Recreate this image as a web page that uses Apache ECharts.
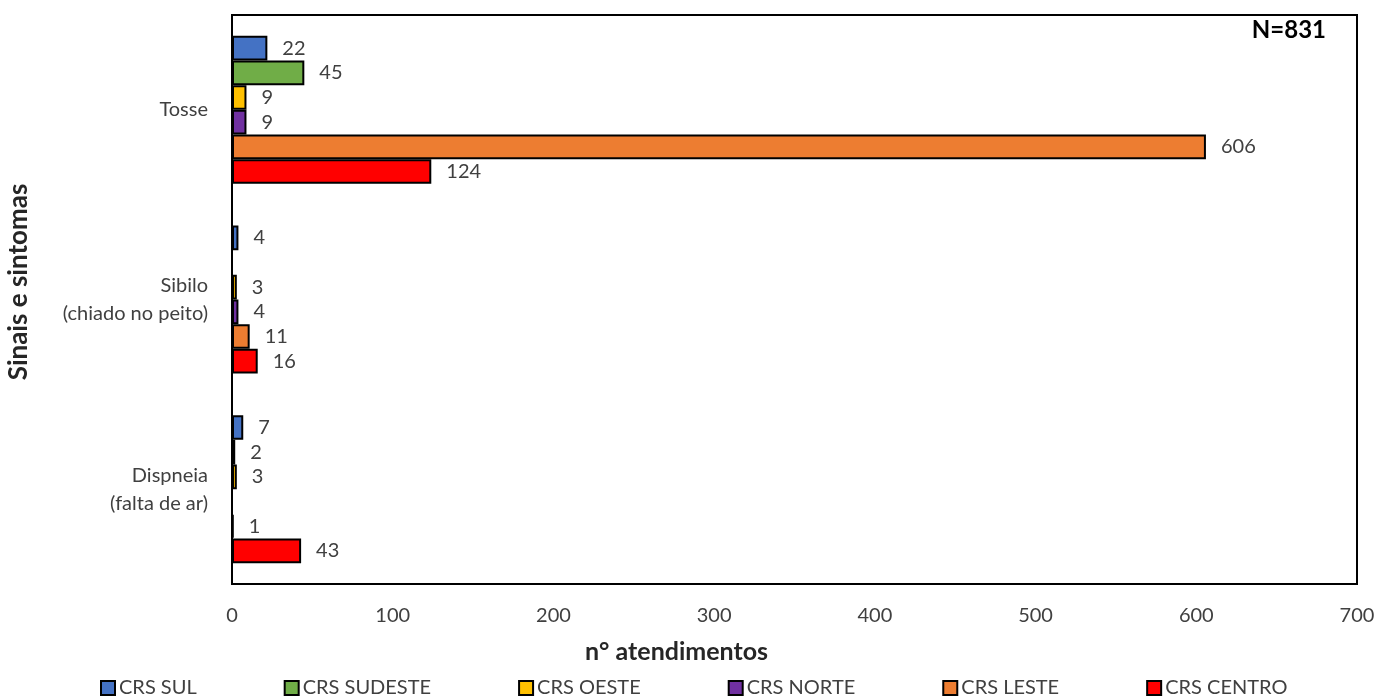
<!DOCTYPE html>
<html>
<head>
<meta charset="utf-8">
<script src="https://cdn.jsdelivr.net/npm/echarts@6/dist/echarts.min.js"></script>
<style>
  html, body { margin: 0; padding: 0; background: #fff; }
  #chart { width: 1394px; height: 696px; }
</style>
</head>
<body>
<div id="chart"></div>
<script>
// Sintomas respiratórios por Coordenadoria Regional de Saúde
const categories = ['Tosse', 'Sibilo\n(chiado no peito)', 'Dispneia\n(falta de ar)'];
const regions = ['CRS SUL', 'CRS SUDESTE', 'CRS OESTE', 'CRS NORTE', 'CRS LESTE', 'CRS CENTRO'];
const crsSul = [22, 4, 7];
const crsSudeste = [45, null, 2];
const crsOeste = [9, 3, 3];
const crsNorte = [9, 4, null];
const crsLeste = [606, 11, 1];
const crsCentro = [124, 16, 43];
const xTicks = [0, 100, 200, 300, 400, 500, 600, 700];
const totalLabel = 'N=831';

const colors = ['#4472C4', '#70AD47', '#FFC000', '#7030A0', '#ED7D31', '#FF0000'];
const seriesValues = [crsSul, crsSudeste, crsOeste, crsNorte, crsLeste, crsCentro];
const FONT = 'Lato, "Open Sans", sans-serif';
const TEXT = '#404040';

const chart = echarts.init(document.getElementById('chart'), null, { renderer: 'canvas' });

const series = regions.map((name, i) => ({
  name: name,
  type: 'bar',
  data: seriesValues[i],
  barGap: '0%',
  barCategoryGap: '22%',
  itemStyle: { color: colors[i], borderColor: '#000', borderWidth: 2 },
  label: {
    show: true,
    position: 'right',
    distance: 15,
    color: TEXT,
    fontFamily: FONT,
    fontSize: 20
  },
  emphasis: { disabled: true }
}));

chart.setOption({
  animation: false,
  backgroundColor: '#fff',
  grid: {
    left: 232, right: 37, top: 15, bottom: 112,
    show: true, borderColor: '#000', borderWidth: 2, backgroundColor: 'transparent'
  },
  xAxis: {
    type: 'value',
    min: xTicks[0],
    max: xTicks[xTicks.length - 1],
    interval: xTicks[1] - xTicks[0],
    axisLine: { show: false },
    axisTick: { show: false },
    splitLine: { show: false },
    axisLabel: { color: TEXT, fontFamily: FONT, fontSize: 20, margin: 22 }
  },
  yAxis: {
    type: 'category',
    data: categories,
    inverse: true,
    axisLine: { show: false },
    axisTick: { show: false },
    axisLabel: { color: TEXT, fontFamily: FONT, fontSize: 20, margin: 24, lineHeight: 28, align: 'right' }
  },
  legend: {
    data: regions,
    left: 100,
    top: 678,
    padding: 0,
    itemGap: 87,
    itemWidth: 14,
    itemHeight: 14,
    icon: 'rect',
    itemStyle: { borderColor: '#000', borderWidth: 2 },
    textStyle: { color: TEXT, fontFamily: FONT, fontSize: 20, padding: [0, 0, 0, -1] },
    selectedMode: false
  },
  graphic: [
    {
      type: 'text',
      left: 585, top: 639,
      style: { text: 'n° atendimentos', fill: '#262626', font: 'bold 25px ' + FONT }
    },
    {
      type: 'text',
      x: 19, y: 282,
      rotation: Math.PI / 2,
      style: { text: 'Sinais e sintomas', fill: '#262626', font: 'bold 26px ' + FONT, align: 'center', verticalAlign: 'middle' }
    },
    {
      type: 'text',
      right: 68, top: 18,
      style: { text: totalLabel, fill: '#000', font: 'bold 24px ' + FONT }
    }
  ],
  series: series
});
</script>
</body>
</html>
